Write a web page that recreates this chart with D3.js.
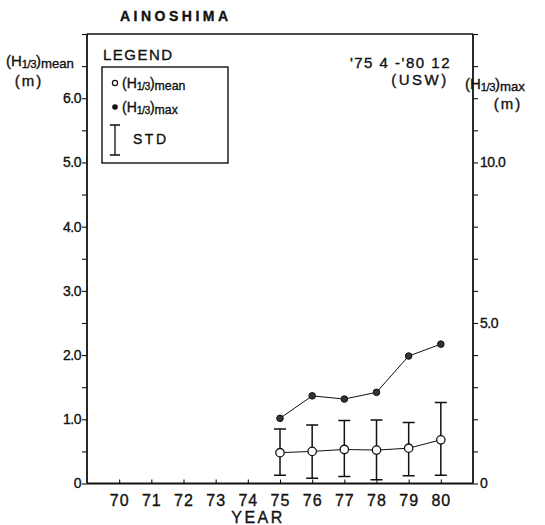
<!DOCTYPE html>
<html><head><meta charset="utf-8">
<script src="https://cdn.jsdelivr.net/npm/d3@7"></script>
<style>
body{margin:0;background:#fff;}
svg{display:block;}
text{font-family:"Liberation Sans","DejaVu Sans",sans-serif;fill:#111;stroke:#111;stroke-width:0.35px;}
</style></head>
<body>
<svg id="c" width="545" height="525"></svg>
<script>
const years = [75, 76, 77, 78, 79, 80];
const meanH = [0.48, 0.50, 0.53, 0.52, 0.55, 0.68];
const stdUpper = [0.85, 0.91, 0.98, 0.99, 0.95, 1.26];
const stdLower = [0.13, 0.08, 0.11, 0.06, 0.12, 0.13];
const maxH = [2.03, 2.73, 2.63, 2.84, 3.97, 4.34];
const xTicks = [70, 71, 72, 73, 74, 75, 76, 77, 78, 79, 80];
const leftTicks = [0, 1, 2, 3, 4, 5, 6];
const leftTickLabels = ["0", "1.0", "2.0", "3.0", "4.0", "5.0", "6.0"];
const rightTicks = [0, 5, 10];
const rightTickLabels = ["0", "5.0", "10.0"];

const svg = d3.select("#c");
const L = 87, R = 473, T = 34, B = 483.5;
const x = d3.scaleLinear().domain([69, 81]).range([L, R]);
const yL = d3.scaleLinear().domain([0, 7]).range([B, T]);
const yR = d3.scaleLinear().domain([0, 14]).range([B, T]);

// frame
svg.append("line").attr("x1", L).attr("x2", R).attr("y1", T).attr("y2", T).attr("stroke", "#111").attr("stroke-width", 1.3);

// left axis
const gl = svg.append("g").attr("transform", `translate(${L},0)`)
  .call(d3.axisLeft(yL).tickValues(d3.range(0, 7.01, 0.5)).tickSize(5)
    .tickFormat(d => { const i = leftTicks.indexOf(d); return i >= 0 ? leftTickLabels[i] : ""; }));
// right axis
const gr = svg.append("g").attr("transform", `translate(${R},0)`)
  .call(d3.axisRight(yR).tickValues(d3.range(0, 14.01, 1)).tickSize(5)
    .tickFormat(d => { const i = rightTicks.indexOf(d); return i >= 0 ? rightTickLabels[i] : ""; }));
// bottom axis
const gb = svg.append("g").attr("transform", `translate(0,${B})`)
  .call(d3.axisBottom(x).tickValues(xTicks).tickSizeInner(-4).tickSizeOuter(0).tickFormat(d => String(d)));

[gl, gr, gb].forEach(g => {
  g.select(".domain").attr("stroke", "#111").attr("stroke-width", 1.8);
  g.selectAll(".tick line").attr("stroke", "#111").attr("stroke-width", 1.1);
});
gl.select(".domain").attr("d", `M0,${B}V${T}`);
gr.select(".domain").attr("d", `M0,${B}V${T}`);
gb.select(".domain").attr("d", `M${L},0H${R}`);
gl.selectAll(".tick text").attr("x", -6).attr("font-size", 14).attr("fill", "#111").style("letter-spacing", "-0.5px");
gr.selectAll(".tick text").attr("x", 7).attr("font-size", 14).attr("fill", "#111").style("letter-spacing", "-0.5px");
gb.selectAll(".tick text").attr("y", 11).attr("font-size", 16).attr("fill", "#111").style("letter-spacing", "1px");

// title & axis labels
svg.append("text").attr("x", 120).attr("y", 21).attr("font-size", 14).attr("font-weight", "bold")
  .style("letter-spacing", "3.5px").text("AINOSHIMA");
svg.append("text").attr("x", 258).attr("y", 523).attr("text-anchor", "middle").attr("font-size", 16)
  .style("letter-spacing", "2.5px").text("YEAR");

function hLabel(sel, xx, yy, sub, size) {
  const t = sel.append("text").attr("x", xx).attr("y", yy).attr("font-size", size);
  t.append("tspan").text("(H");
  t.append("tspan").attr("font-size", size * 0.75).attr("dy", 1.5).style("letter-spacing", "-0.5px").text("1/3");
  t.append("tspan").attr("dy", -1.5).text(")");
  t.append("tspan").attr("font-size", size * 0.88).attr("dy", 1.5).text(sub);
  return t;
}
hLabel(svg, 6, 66, "mean", 15);
svg.append("text").attr("x", 29).attr("y", 86).attr("text-anchor", "middle").attr("font-size", 15).style("letter-spacing", "2px").text("(m)");
hLabel(svg, 465, 89, "max", 15);
svg.append("text").attr("x", 508).attr("y", 109).attr("text-anchor", "middle").attr("font-size", 15).style("letter-spacing", "2px").text("(m)");

// period annotation
svg.append("text").attr("x", 451).attr("y", 68).attr("text-anchor", "end").attr("font-size", 15).style("letter-spacing", "1.5px").text("'75 4 -'80 12");
svg.append("text").attr("x", 420).attr("y", 85).attr("text-anchor", "middle").attr("font-size", 15).style("letter-spacing", "2.5px").text("(USW)");

// legend
svg.append("text").attr("x", 103).attr("y", 60).attr("font-size", 15).style("letter-spacing", "1.5px").text("LEGEND");
svg.append("rect").attr("x", 102).attr("y", 67).attr("width", 126).attr("height", 96)
  .attr("fill", "none").attr("stroke", "#111").attr("stroke-width", 1.4);
svg.append("circle").attr("cx", 115).attr("cy", 83).attr("r", 2.6).attr("fill", "#fff").attr("stroke", "#111").attr("stroke-width", 1.2);
hLabel(svg, 122, 88, "mean", 14);
svg.append("circle").attr("cx", 115).attr("cy", 107).attr("r", 2.8).attr("fill", "#111");
hLabel(svg, 122, 112, "max", 14);
svg.append("path").attr("d", "M110,125H120M115,125V155M110,155H120").attr("stroke", "#111").attr("stroke-width", 1.3).attr("fill", "none");
svg.append("text").attr("x", 133).attr("y", 144).attr("font-size", 14).style("letter-spacing", "2.5px").text("STD");

// data
const pts = years.map((yr, i) => ({yr, m: meanH[i], up: stdUpper[i], lo: stdLower[i], mx: maxH[i]}));

// std bars
const eb = svg.append("g").attr("stroke", "#111").attr("fill", "none");
eb.selectAll("path").data(pts).join("path")
  .attr("stroke-width", 1.5)
  .attr("d", d => `M${x(d.yr) - 6},${yL(d.up)}H${x(d.yr) + 6}M${x(d.yr)},${yL(d.up)}V${yL(d.lo)}M${x(d.yr) - 6},${yL(d.lo)}H${x(d.yr) + 6}`);

// max line
svg.append("path").datum(pts).attr("fill", "none").attr("stroke", "#111").attr("stroke-width", 1)
  .attr("d", d3.line().x(d => x(d.yr)).y(d => yR(d.mx)));
svg.append("g").selectAll("circle").data(pts).join("circle")
  .attr("cx", d => x(d.yr)).attr("cy", d => yR(d.mx)).attr("r", 3.3)
  .attr("fill", "#333").attr("stroke", "#111").attr("stroke-width", 1);

// mean line
svg.append("path").datum(pts).attr("fill", "none").attr("stroke", "#111").attr("stroke-width", 1)
  .attr("d", d3.line().x(d => x(d.yr)).y(d => yL(d.m)));
svg.append("g").selectAll("circle").data(pts).join("circle")
  .attr("cx", d => x(d.yr)).attr("cy", d => yL(d.m)).attr("r", 4.2)
  .attr("fill", "#fff").attr("stroke", "#111").attr("stroke-width", 1.3);
</script>
</body></html>
